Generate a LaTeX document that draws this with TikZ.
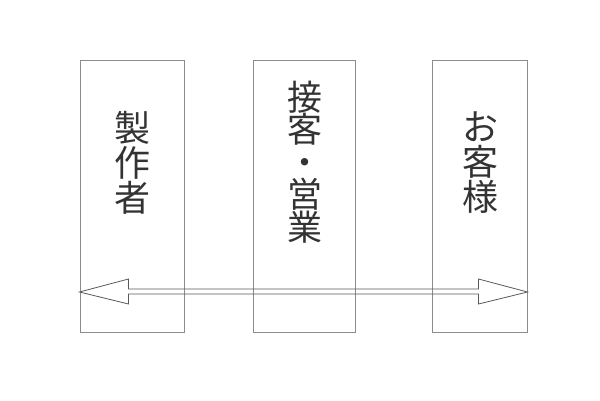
\documentclass[tikz,border=0pt]{standalone}
\usepackage{fontspec}
\newfontfamily\jp{Noto Sans CJK JP}
\usetikzlibrary{calc}
\tikzset{
  colbox/.style={draw=black!45, line width=1pt, inner sep=0pt, minimum height=272pt},
  vlabel/.style={font=\jp\fontsize{36}{35}\selectfont, text=black!80, align=center, inner sep=0pt},
  dblarrow/.style={draw=black!65, line width=0.8pt, line join=miter}
}
\begin{document}
\begin{tikzpicture}[x=1pt,y=-1pt]
\useasboundingbox (0,0) rectangle (600,400);
\node[colbox, minimum width=104pt] (b1) at (132,196) {};
\node[colbox, minimum width=102pt] (b2) at (304,196) {};
\node[colbox, minimum width=95pt] (b3) at (479.5,196) {};
\node[vlabel] (t1) at (132,163) {製\\作\\者};
\node[vlabel, font=\jp\fontsize{35}{32.5}\selectfont] (t2) at (305,162) {接\\客\\・\\営\\業};
\node[vlabel] (t3) at (480,163) {お\\客\\様};
\coordinate (L) at (b1.west |- 0,292);
\coordinate (R) at (b3.east |- 0,292);
\draw[dblarrow] (L) -- ($(L)+(49,-13)$) -- ($(L)+(49,-3)$) -- ($(R)+(-49,-3)$) -- ($(R)+(-49,-13)$)
  -- (R) -- ($(R)+(-49,12)$) -- ($(R)+(-49,2)$) -- ($(L)+(49,2)$) -- ($(L)+(49,12)$) -- cycle;
\end{tikzpicture}
\end{document}
